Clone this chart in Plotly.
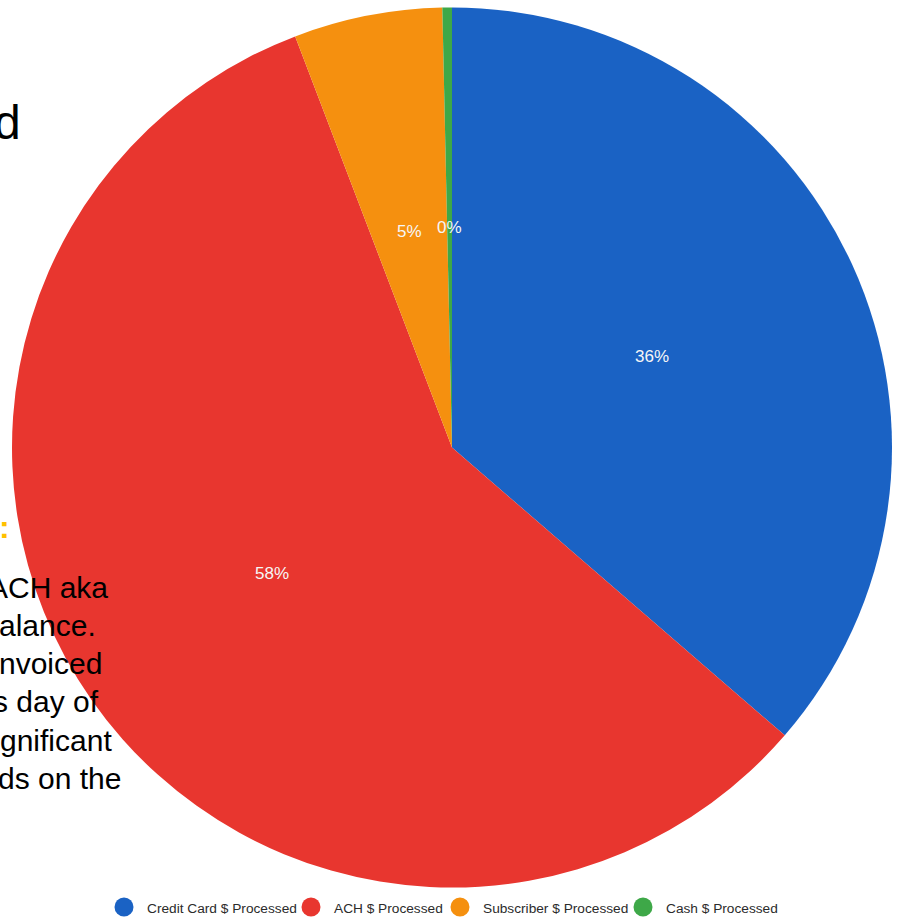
import math
import plotly.graph_objects as go

# Share of processed payment volume by method
categories = ["Credit Card $ Processed", "ACH $ Processed",
              "Subscriber $ Processed", "Cash $ Processed"]
shares = [36.35, 57.85, 5.45, 0.35]
colors = ["#1A62C4", "#E8362F", "#F5900F", "#3EA848"]

# Fragments of the slide copy sitting beside the chart
body_lines = ["ACH aka", "alance.", "nvoiced", "s day of", "gnificant", "ds on the"]
body_right = [110, 98, 104, 101, 114, 123]

W, H = 901, 917
cx, cy, rad = 452, 447.5, 440
FONT = "Liberation Sans, Arial"

fig = go.Figure()
fig.add_trace(go.Pie(
    labels=categories, values=shares, sort=False, direction="clockwise",
    rotation=0, marker=dict(colors=colors, line=dict(width=0)),
    textinfo="none", hoverinfo="label+percent", showlegend=False,
    domain=dict(x=[(cx - rad) / W, (cx + rad) / W],
                y=[1 - (cy + rad) / H, 1 - (cy - rad) / H]),
))

# Percentage labels at half radius, mid-angle of each slice
total = sum(shares)
start = 0.0
for v in shares:
    frac = v / total
    mid = (start + frac / 2) * 2 * math.pi
    start += frac
    px = cx + 0.5 * rad * math.sin(mid)
    py = cy - 0.5 * rad * math.cos(mid)
    fig.add_annotation(x=px / W, y=1 - py / H, xref="paper", yref="paper",
                       xanchor="center", yanchor="middle",
                       text=f"{frac:.0%}", showarrow=False,
                       font=dict(family=FONT, size=17, color="#F6F6F6"))

# Legend row along the bottom: circle swatch followed by its label
legend_swatch_x = [124, 311, 460, 643]
legend_y = 907
sw_r = 9.5
for name, col, sx in zip(categories, colors, legend_swatch_x):
    fig.add_shape(type="circle", xref="paper", yref="paper",
                  x0=(sx - sw_r) / W, x1=(sx + sw_r) / W,
                  y0=1 - (legend_y + sw_r) / H, y1=1 - (legend_y - sw_r) / H,
                  fillcolor=col, line=dict(width=0))
    fig.add_annotation(x=(sx + 21) / W, y=1 - (legend_y + 1) / H,
                       xref="paper", yref="paper", text=name,
                       xanchor="left", yanchor="middle", showarrow=False,
                       font=dict(family=FONT, size=13.7, color="#2B2B2B"))

# Slide copy
fig.add_annotation(x=23 / W, y=1 - 122 / H, xref="paper", yref="paper", text="d",
                   xanchor="right", yanchor="middle", showarrow=False,
                   font=dict(family=FONT, size=48, color="#000000"))
fig.add_annotation(x=12 / W, y=1 - 527 / H, xref="paper", yref="paper", text="<b>:</b>",
                   xanchor="right", yanchor="middle", showarrow=False,
                   font=dict(family=FONT, size=32, color="#FFC000"))
for i, (line, xr) in enumerate(zip(body_lines, body_right)):
    base = 597 + 38.3 * i
    fig.add_annotation(x=xr / W, y=1 - (base - 10) / H, xref="paper", yref="paper",
                       text=line, xanchor="right", yanchor="middle", showarrow=False,
                       font=dict(family=FONT, size=30, color="#000000"))

fig.update_layout(
    width=W, height=H, margin=dict(l=0, r=0, t=0, b=0, autoexpand=False),
    paper_bgcolor="white", plot_bgcolor="white", showlegend=False,
)

fig.write_html("out.html")
